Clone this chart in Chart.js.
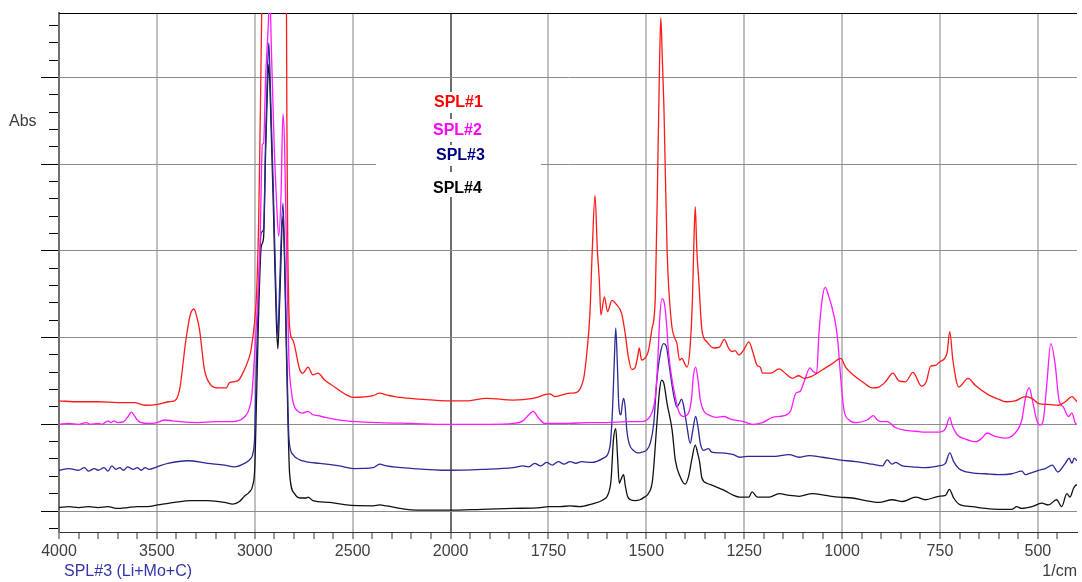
<!DOCTYPE html>
<html>
<head>
<meta charset="utf-8">
<script src="https://cdn.jsdelivr.net/npm/chart.js@4.4.1/dist/chart.umd.min.js"></script>
<style>
  html, body { margin: 0; padding: 0; background: #fff; }
  #wrap { position: relative; width: 1082px; height: 582px; }
</style>
</head>
<body>
<div id="wrap"><canvas id="ir-chart"></canvas></div>
<script>
// Wavenumbers (1/cm) and absorbance
const spl1Wn = [4000,3900,3800,3700,3614,3563,3495,3440,3410,3384,3352,3330,3311,3295,3282,3257,3223,3189,3146,3129,3087,3053,3030,3019,3000,2990,2980,2972,2965,2950,2920,2885,2850,2842,2838,2836,2832,2822,2805,2770,2754,2728,2703,2677,2643,2592,2532,2498,2396,2362,2328,2260,2158,2005,1960,1908,1840,1789,1746,1734,1695,1687,1661,1652,1644,1638,1631,1625,1620,1616,1607,1599,1588,1576,1563,1554,1546,1537,1529,1522,1518,1512,1504,1495,1486,1477,1470,1466,1463,1459,1455,1447,1436,1426,1422,1415,1409,1402,1396,1388,1382,1379,1375,1371,1366,1358,1345,1328,1313,1301,1290,1281,1273,1264,1251,1238,1227,1217,1209,1203,1182,1161,1143,1127,1111,1097,1080,1050,1025,1003,991,969,948,923,906,889,870,855,838,819,797,785,774,761,751,732,725,717,702,678,660,626,600,583,558,532,515,498,473,447,430,413,400];
const spl1Abs = [1.27,1.26,1.26,1.25,1.25,1.22,1.23,1.26,1.27,1.40,1.97,2.26,2.33,2.23,2.09,1.63,1.45,1.42,1.42,1.48,1.50,1.63,1.76,1.86,2.20,2.55,3.36,4.51,5.66,7.5,9.0,8.0,8.6,7.0,5.8,4.5,3.2,2.12,1.97,1.63,1.59,1.66,1.57,1.59,1.51,1.43,1.34,1.31,1.33,1.36,1.34,1.31,1.29,1.27,1.27,1.30,1.28,1.30,1.35,1.32,1.36,1.36,1.51,1.82,2.28,3.01,3.64,3.01,2.66,2.26,2.47,2.30,2.43,2.38,2.28,2.05,1.78,1.63,1.65,1.78,1.88,1.74,1.76,1.84,2.09,2.47,4.16,5.20,5.69,5.20,4.66,3.01,2.18,1.98,1.94,1.74,1.76,1.70,1.66,1.90,2.47,3.01,3.51,3.01,2.66,2.09,1.95,1.88,1.89,1.98,1.88,1.84,1.85,1.80,1.86,1.95,1.82,1.68,1.66,1.59,1.59,1.64,1.58,1.53,1.56,1.53,1.55,1.63,1.70,1.76,1.66,1.56,1.49,1.42,1.43,1.49,1.59,1.50,1.49,1.60,1.44,1.49,1.67,1.68,1.72,1.82,2.07,1.74,1.43,1.53,1.45,1.34,1.29,1.26,1.27,1.32,1.30,1.24,1.23,1.22,1.26,1.32,1.26];

const spl2Wn = [4000,3950,3900,3860,3840,3800,3780,3750,3735,3720,3700,3670,3650,3630,3615,3600,3580,3540,3500,3460,3420,3380,3290,3200,3140,3087,3050,3030,3015,3009,2991,2974,2961,2955,2945,2932,2923,2915,2900,2890,2878,2866,2856,2848,2838,2826,2812,2800,2780,2754,2728,2703,2677,2640,2532,2362,2200,2022,1900,1840,1815,1800,1789,1775,1759,1700,1650,1600,1550,1516,1499,1486,1477,1471,1466,1460,1454,1449,1443,1434,1426,1418,1405,1392,1384,1380,1374,1368,1362,1354,1337,1320,1302,1285,1251,1229,1203,1178,1148,1131,1118,1107,1097,1082,1074,1065,1059,1050,1043,1035,1020,1012,1003,995,982,965,936,920,910,896,885,863,838,812,787,753,736,725,719,706,685,659,643,630,609,583,558,541,531,522,514,503,494,486,477,467,456,446,435,422,413,404,400];
const spl2Abs = [1.00,1.01,1.00,1.02,1.00,1.01,1.00,1.04,1.02,1.04,1.02,1.03,1.08,1.14,1.10,1.05,1.02,1.01,1.02,1.05,1.04,1.03,1.02,1.03,1.03,1.04,1.09,1.17,1.33,1.52,2.18,3.01,4.23,4.24,4.97,5.55,5.95,5.32,4.16,3.63,3.17,3.63,4.58,4.25,3.01,1.77,1.36,1.22,1.15,1.13,1.15,1.11,1.10,1.08,1.04,1.02,1.01,1.00,1.00,1.01,1.04,1.11,1.15,1.07,1.01,1.01,1.02,1.02,1.03,1.03,1.05,1.13,1.32,1.70,2.20,2.45,2.40,2.20,1.82,1.51,1.32,1.16,1.09,1.13,1.32,1.55,1.66,1.51,1.28,1.16,1.10,1.08,1.09,1.06,1.03,1.00,1.02,1.08,1.10,1.16,1.36,1.38,1.49,1.65,1.61,1.59,2.05,2.47,2.58,2.49,2.24,2.01,1.51,1.16,1.05,1.02,1.05,1.10,1.05,1.03,1.03,0.96,0.93,0.92,0.91,0.91,0.95,1.08,0.99,0.88,0.83,0.80,0.84,0.90,0.86,0.84,0.90,1.05,1.32,1.42,1.28,1.05,0.99,1.05,1.47,1.93,1.70,1.28,1.20,1.09,1.13,1.01,1.00];

const spl3Wn = [4000,3950,3900,3870,3850,3820,3800,3770,3750,3730,3710,3690,3670,3650,3620,3600,3580,3560,3540,3500,3444,3342,3240,3155,3104,3053,3019,3010,3000,2991,2980,2967,2955,2945,2935,2928,2920,2905,2890,2882,2873,2856,2848,2840,2830,2825,2805,2770,2740,2720,2668,2566,2498,2396,2362,2328,2190,2005,1920,1840,1815,1800,1785,1770,1755,1740,1725,1710,1695,1680,1665,1640,1610,1593,1586,1582,1578,1574,1570,1565,1561,1558,1554,1550,1544,1533,1522,1511,1500,1490,1481,1473,1464,1456,1449,1441,1431,1422,1416,1410,1405,1396,1388,1381,1374,1368,1362,1354,1341,1333,1311,1277,1262,1243,1211,1178,1135,1110,1084,1050,1008,965,923,897,885,872,863,846,821,787,753,736,725,715,702,668,634,600,566,541,532,524,498,481,463,449,430,420,413,407,400];
const spl3Abs = [0.47,0.49,0.47,0.50,0.46,0.49,0.47,0.50,0.46,0.52,0.48,0.50,0.47,0.51,0.48,0.50,0.47,0.50,0.48,0.51,0.55,0.58,0.55,0.53,0.51,0.55,0.61,0.66,0.88,1.75,2.60,3.21,3.25,4.25,5.09,5.40,4.86,3.70,2.39,2.02,2.59,3.55,3.01,2.18,1.15,0.82,0.65,0.59,0.57,0.56,0.55,0.52,0.49,0.50,0.54,0.52,0.49,0.47,0.48,0.50,0.52,0.51,0.55,0.52,0.56,0.53,0.57,0.54,0.57,0.55,0.57,0.56,0.61,0.74,1.20,1.70,2.11,1.70,1.20,1.11,1.24,1.30,1.20,0.94,0.78,0.70,0.67,0.68,0.70,0.78,1.01,1.51,1.82,1.93,1.90,1.66,1.36,1.20,1.24,1.29,1.22,0.97,0.78,0.94,1.09,0.97,0.78,0.70,0.72,0.68,0.67,0.65,0.62,0.63,0.63,0.63,0.65,0.62,0.64,0.62,0.59,0.57,0.54,0.52,0.59,0.54,0.56,0.52,0.51,0.50,0.52,0.55,0.67,0.57,0.49,0.44,0.43,0.42,0.43,0.46,0.42,0.43,0.47,0.49,0.53,0.45,0.55,0.61,0.55,0.61,0.58];

const spl4Wn = [4000,3950,3900,3850,3800,3750,3700,3650,3600,3550,3495,3410,3325,3240,3155,3112,3078,3053,3027,3010,3000,2991,2980,2967,2955,2945,2935,2928,2920,2905,2890,2882,2873,2856,2848,2840,2830,2822,2797,2770,2736,2728,2703,2617,2532,2396,2362,2328,2225,2107,2005,1920,1840,1770,1750,1720,1695,1670,1640,1610,1599,1590,1584,1578,1574,1569,1565,1558,1554,1548,1540,1529,1516,1505,1495,1484,1473,1466,1461,1455,1447,1434,1426,1414,1401,1392,1384,1375,1369,1364,1358,1345,1328,1302,1277,1262,1251,1238,1230,1216,1186,1161,1135,1110,1076,1042,1008,974,940,906,872,846,812,787,753,736,726,715,698,668,634,600,566,554,541,515,490,473,452,439,426,418,409,402,400];
const spl4Abs = [0.04,0.05,0.04,0.05,0.04,0.05,0.03,0.04,0.05,0.05,0.07,0.10,0.12,0.12,0.10,0.08,0.11,0.17,0.22,0.30,0.50,1.30,2.30,3.05,3.15,4.10,4.90,5.15,4.70,3.50,2.20,1.87,2.40,3.40,2.90,2.00,1.00,0.43,0.20,0.15,0.15,0.16,0.12,0.10,0.07,0.06,0.07,0.06,0.02,0.01,0.01,0.02,0.03,0.04,0.05,0.05,0.06,0.05,0.08,0.13,0.18,0.36,0.82,0.95,0.67,0.32,0.36,0.42,0.30,0.17,0.13,0.12,0.13,0.16,0.20,0.36,1.01,1.40,1.51,1.47,1.24,0.93,0.59,0.40,0.31,0.40,0.59,0.76,0.67,0.57,0.38,0.32,0.29,0.24,0.18,0.16,0.16,0.16,0.22,0.16,0.16,0.20,0.18,0.17,0.20,0.18,0.16,0.15,0.12,0.10,0.13,0.11,0.16,0.13,0.17,0.18,0.25,0.15,0.07,0.05,0.03,0.02,0.02,0.05,0.03,0.05,0.09,0.07,0.13,0.05,0.20,0.16,0.26,0.30,0.30];

const seriesLabels = ["SPL#1", "SPL#2", "SPL#3", "SPL#4"];
const seriesColors = ["#ff1a1a", "#ff1aff", "#2a2a98", "#111111"];
const labelColors = ["#ff0000", "#ff00ff", "#000080", "#000000"];

// Axis: 4000..2000 at 500/division, 2000..400 at 250/division
const xMax = 4000;
const xBreak = 2000;
const xMin = 400;
const xLabels = [4000, 3500, 3000, 2500, 2000, 1750, 1500, 1250, 1000, 750, 500];
const yMin = -0.242;
const yMax = 5.744;

const FONT = "'Liberation Sans', Arial, sans-serif";

function toPoints(wn, abs) {
  return wn.map((w, i) => ({ x: w, y: abs[i] }));
}

// x ticks: every 100 above the break, every 50 below it
const xTickValues = [];
for (let v = xMax; v > xBreak; v -= 100) xTickValues.push(v);
for (let v = xBreak; v >= xMin + 50; v -= 50) xTickValues.push(v);

// y ticks: minor every 0.2, major every 1
const yTickValues = [];
for (let k = -1; k <= 28; k++) yTickValues.push(k / 5);
const isMajorY = (v) => Math.abs(v - Math.round(v)) < 1e-6;

// Scale with the usual expanded region below 2000 1/cm
class IRScale extends Chart.LinearScale {
  toUnits(v) {
    return v >= xBreak ? (xMax - v) / 500 : (xMax - xBreak) / 500 + (xBreak - v) / 250;
  }
  getPixelForValue(value) {
    if (value === null || value === undefined || isNaN(value)) return NaN;
    return this.getPixelForDecimal(this.toUnits(value) / this.toUnits(xMin));
  }
  getValueForPixel(pixel) {
    const u = this.getDecimalForPixel(pixel) * this.toUnits(xMin);
    const uBreak = (xMax - xBreak) / 500;
    return u <= uBreak ? xMax - u * 500 : xBreak - (u - uBreak) * 250;
  }
}
IRScale.id = "irscale";
IRScale.defaults = Chart.LinearScale.defaults;
Chart.register(IRScale);

const alignPx = (p) => Math.round(p - 0.5) + 0.5;

const frameExtras = {
  id: "frameExtras",
  beforeDatasetsDraw(chart) {
    const { ctx, chartArea } = chart;
    const yScale = chart.scales.y;
    ctx.save();
    // top border
    ctx.strokeStyle = "#000";
    ctx.lineWidth = 1;
    ctx.beginPath();
    ctx.moveTo(chartArea.left, alignPx(chartArea.top));
    ctx.lineTo(chartArea.right, alignPx(chartArea.top));
    ctx.stroke();
    // longer marks for the major y ticks
    yTickValues.filter(isMajorY).forEach((v) => {
      const py = alignPx(yScale.getPixelForValue(v));
      ctx.beginPath();
      ctx.moveTo(chartArea.left - 18, py);
      ctx.lineTo(chartArea.left - 9, py);
      ctx.stroke();
    });
    ctx.restore();
  },
  afterDraw(chart) {
    const { ctx } = chart;
    ctx.save();
    ctx.textBaseline = "middle";
    ctx.font = "16px " + FONT;
    ctx.fillStyle = "#3c3c3c";
    ctx.textAlign = "left";
    ctx.fillText("Abs", 9, 122);
    ctx.textAlign = "right";
    ctx.fillText("1/cm", 1077, 572);
    ctx.textAlign = "left";
    ctx.fillStyle = "#3434a8";
    ctx.fillText("SPL#3 (Li+Mo+C)", 64, 572);

    // legend boxes in the middle of the plot
    const rows = [
      { top: 92, h: 21, ty: 103, tx: 434 },
      { top: 119, h: 23, ty: 131, tx: 433 },
      { top: 145, h: 21, ty: 156, tx: 436 },
      { top: 172, h: 25, ty: 189, tx: 433 },
    ];
    ctx.font = "bold 16px " + FONT;
    chart.data.datasets.forEach((ds, i) => {
      const r = rows[i];
      ctx.fillStyle = "#fff";
      ctx.fillRect(376, r.top, 165, r.h);
      ctx.fillStyle = labelColors[i];
      ctx.fillText(ds.label, r.tx, r.ty);
    });
    ctx.restore();
  },
};

const ctx = document.getElementById("ir-chart").getContext("2d");
const chart = new Chart(ctx, {
  type: "line",
  data: {
    datasets: [
      { label: seriesLabels[0], data: toPoints(spl1Wn, spl1Abs), borderColor: seriesColors[0] },
      { label: seriesLabels[1], data: toPoints(spl2Wn, spl2Abs), borderColor: seriesColors[1] },
      { label: seriesLabels[2], data: toPoints(spl3Wn, spl3Abs), borderColor: seriesColors[2] },
      { label: seriesLabels[3], data: toPoints(spl4Wn, spl4Abs), borderColor: seriesColors[3] },
    ],
  },
  options: {
    responsive: true,
    maintainAspectRatio: false,
    animation: false,
    events: [],
    layout: { padding: { top: 13, right: 5, left: 0, bottom: 0 } },
    elements: {
      point: { radius: 0 },
      line: { borderWidth: 1.3, cubicInterpolationMode: "monotone", fill: false },
    },
    plugins: { legend: { display: false }, tooltip: { enabled: false } },
    scales: {
      x: {
        type: "irscale",
        min: xMin,
        max: xMax,
        afterBuildTicks: (scale) => {
          scale.ticks = xTickValues.map((v) => ({ value: v }));
        },
        afterFit: (scale) => {
          scale.height = 50;
        },
        ticks: {
          autoSkip: false,
          maxRotation: 0,
          padding: 3,
          color: "#404040",
          font: { family: FONT, size: 16 },
          callback: (value) => (xLabels.includes(value) ? String(value) : ""),
        },
        grid: {
          color: (c) => {
            const v = c.tick ? c.tick.value : null;
            if (v === xBreak) return "#6e6e6e";
            return xLabels.includes(v) ? "#c0c0c0" : "rgba(0,0,0,0)";
          },
          lineWidth: 2,
          tickWidth: 1,
          tickColor: "#333",
          tickLength: 7,
        },
        border: { display: true, color: "#333", width: 1 },
      },
      y: {
        type: "linear",
        min: yMin,
        max: yMax,
        afterBuildTicks: (scale) => {
          scale.ticks = yTickValues.map((v) => ({ value: v }));
        },
        afterFit: (scale) => {
          scale.width = 59;
        },
        ticks: { display: false },
        grid: {
          color: (c) => (c.tick && isMajorY(c.tick.value) ? "#8c8c8c" : "rgba(0,0,0,0)"),
          lineWidth: 1,
          tickWidth: 1,
          tickColor: "#000",
          tickLength: 10,
        },
        border: { display: true, color: "#707070", width: 2 },
      },
    },
  },
  plugins: [frameExtras],
});
</script>
</body>
</html>
